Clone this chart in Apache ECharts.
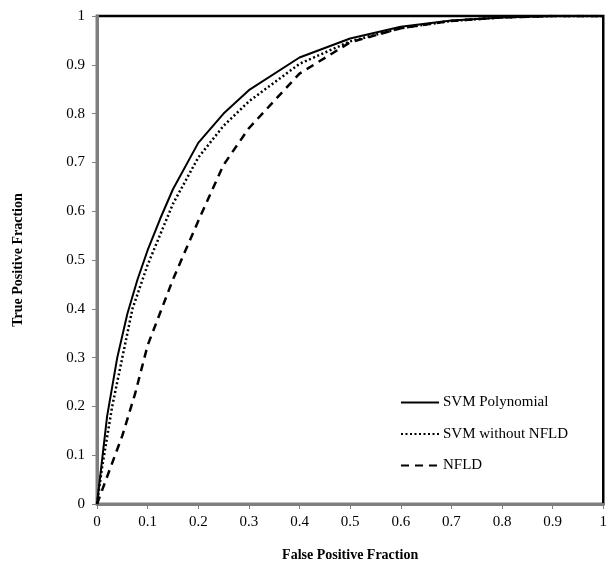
<!DOCTYPE html>
<html>
<head>
<meta charset="utf-8">
<script src="https://cdn.jsdelivr.net/npm/echarts@6/dist/echarts.min.js"></script>
<style>html,body{margin:0;padding:0;background:#fff;}#c{width:610px;height:577px;}</style>
</head>
<body>
<div id="c"></div>
<script>
const seriesNames = ['SVM Polynomial', 'SVM without NFLD', 'NFLD'];
const svmPolyX = [0, 0.02, 0.04, 0.06, 0.08, 0.1, 0.125, 0.15, 0.2, 0.25, 0.3, 0.4, 0.5, 0.6, 0.7, 0.8, 0.9, 1];
const svmPolyY = [0, 0.18, 0.30, 0.39, 0.46, 0.52, 0.585, 0.645, 0.74, 0.80, 0.848, 0.915, 0.954, 0.978, 0.991, 0.997, 1, 1];
const svmNoNfldX = [0, 0.01, 0.03, 0.05, 0.07, 0.1, 0.15, 0.2, 0.25, 0.3, 0.4, 0.5, 0.6, 0.7, 0.8, 0.9, 1];
const svmNoNfldY = [0, 0.075, 0.2, 0.3, 0.4, 0.49, 0.615, 0.71, 0.775, 0.825, 0.902, 0.948, 0.975, 0.99, 0.997, 1, 1];
const nfldX = [0, 0.05, 0.075, 0.1, 0.15, 0.2, 0.25, 0.3, 0.4, 0.5, 0.6, 0.7, 0.8, 0.9, 1];
const nfldY = [0, 0.14, 0.225, 0.325, 0.46, 0.58, 0.695, 0.77, 0.882, 0.946, 0.975, 0.99, 0.997, 1, 1];
const xTicks = ['0', '0.1', '0.2', '0.3', '0.4', '0.5', '0.6', '0.7', '0.8', '0.9', '1'];
const yTicks = ['0', '0.1', '0.2', '0.3', '0.4', '0.5', '0.6', '0.7', '0.8', '0.9', '1'];

const zip = (xs, ys) => xs.map((x, i) => [x, ys[i]]);
const font = '"Liberation Serif", "Times New Roman", serif';

const chart = echarts.init(document.getElementById('c'), null, {renderer: 'canvas'});
chart.setOption({
  animation: false,
  backgroundColor: '#fff',
  grid: {left: 97, right: 3, top: 16, bottom: 73, show: true, borderColor: '#000', borderWidth: 2.5},
  xAxis: {
    type: 'value', min: 0, max: 1, interval: 0.1,
    name: 'False Positive Fraction', nameLocation: 'middle', nameGap: 44,
    nameTextStyle: {fontFamily: font, fontSize: 14, fontWeight: 'bold', color: '#000'},
    axisLine: {show: true, onZero: false, lineStyle: {color: '#7f7f7f', width: 3}},
    axisTick: {show: true, length: 5, lineStyle: {color: '#7f7f7f', width: 1}},
    axisLabel: {fontFamily: font, fontSize: 15, color: '#000', margin: 11,
      formatter: (v) => xTicks[Math.round(v * 10)]},
    splitLine: {show: false}
  },
  yAxis: {
    type: 'value', min: 0, max: 1, interval: 0.1,
    name: 'True Positive Fraction', nameLocation: 'middle', nameGap: 72, nameRotate: 90,
    nameTextStyle: {fontFamily: font, fontSize: 14, fontWeight: 'bold', color: '#000'},
    axisLine: {show: true, onZero: false, lineStyle: {color: '#7f7f7f', width: 3}},
    axisTick: {show: true, length: 5, lineStyle: {color: '#7f7f7f', width: 1}},
    axisLabel: {fontFamily: font, fontSize: 15, color: '#000', margin: 12,
      formatter: (v) => yTicks[Math.round(v * 10)]},
    splitLine: {show: false}
  },
  legend: {
    orient: 'vertical', left: 395, top: 390, itemWidth: 38, itemHeight: 14, itemGap: 16.5,
    itemStyle: {opacity: 0},
    textStyle: {fontFamily: font, fontSize: 15, color: '#000', padding: [0, 0, 0, -1]},
    data: seriesNames
  },
  series: [
    {name: seriesNames[0], type: 'line', data: zip(svmPolyX, svmPolyY), symbol: 'none', smooth: false,
      lineStyle: {color: '#000', width: 2, type: 'solid'}, itemStyle: {color: '#000'}},
    {name: seriesNames[1], type: 'line', data: zip(svmNoNfldX, svmNoNfldY), symbol: 'none', smooth: false,
      lineStyle: {color: '#000', width: 2.5, type: [2, 2.5]}, itemStyle: {color: '#000'}},
    {name: seriesNames[2], type: 'line', data: zip(nfldX, nfldY), symbol: 'none', smooth: false,
      lineStyle: {color: '#000', width: 2.5, type: [8, 6]}, itemStyle: {color: '#000'}}
  ]
});
</script>
</body>
</html>
